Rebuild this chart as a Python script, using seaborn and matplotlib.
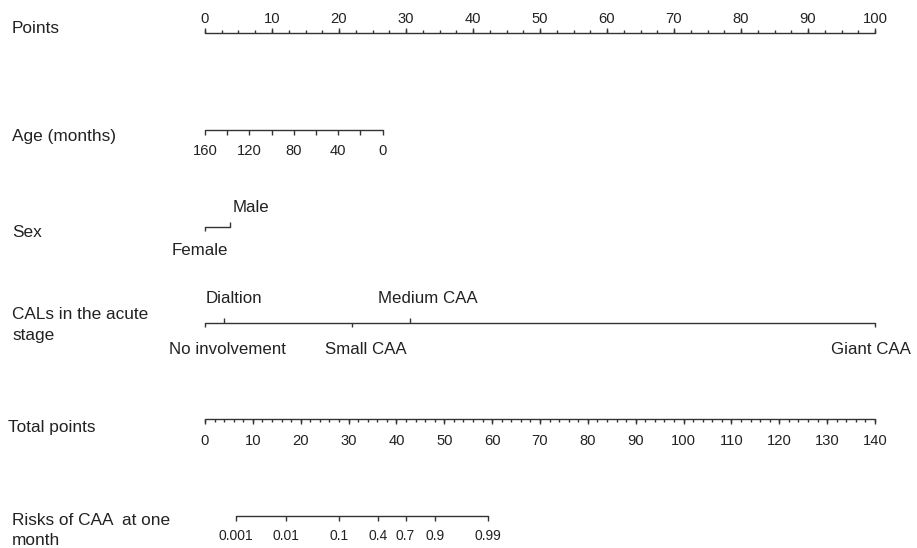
import numpy as np
import pandas as pd
import matplotlib
matplotlib.use("Agg")
import matplotlib.pyplot as plt
import seaborn as sns

# ---- nomogram values (in "points" units 0-100) ----
points_major = list(range(0, 101, 10))
points_minor = list(np.arange(0, 100.1, 2.5))

age_ticks = [160, 140, 120, 100, 80, 60, 40, 20, 0]
age_labels = [160, 120, 80, 40, 0]
age_zero_points = 26.5          # points given to age 0 months (160 months -> 0)

sex_levels = ["Female", "Male"]
sex_points = [0.0, 3.7]

cal_levels = ["No involvement", "Dialtion", "Small CAA", "Medium CAA", "Giant CAA"]
cal_points = [0.0, 2.8, 21.9, 30.6, 100.0]

total_major = list(range(0, 141, 10))
total_minor = list(range(0, 141, 2))
total_max = 140

risk_labels = ["0.001", "0.01", "0.1", "0.4", "0.7", "0.9", "0.99"]
risk_total_points = [6.4, 17.0, 28.0, 36.2, 41.9, 48.1, 59.1]

# ---- layout ----
PX = 100 / 670.0                      # points per pixel
LINE = "#333333"
TEXT = "#222222"
FONT = ["Liberation Sans", "DejaVu Sans"]

sns.set_theme(style="white")
plt.rcParams["font.family"] = FONT

fig = plt.figure(figsize=(9.17, 5.48), dpi=100)
ax = fig.add_axes([0, 0, 1, 1])
ax.set_xlim(-205 * PX, (917 - 205) * PX)
ax.set_ylim(548, 0)
ax.axis("off")

y_points, y_age, y_sex, y_cal, y_total, y_risk = 32.5, 130, 226.7, 322.7, 419.3, 516


def tot2pts(v):
    return np.asarray(v, dtype=float) * 100.0 / total_max


def age2pts(v):
    return (160 - np.asarray(v, dtype=float)) / 160.0 * age_zero_points


# axis lines drawn through seaborn
segs = pd.DataFrame({
    "x": [0, 100, age2pts(160), age2pts(0), sex_points[0], sex_points[-1],
          cal_points[0], cal_points[-1], 0, tot2pts(total_max),
          tot2pts(risk_total_points[0]), tot2pts(risk_total_points[-1])],
    "y": [y_points] * 2 + [y_age] * 2 + [y_sex] * 2 + [y_cal] * 2
         + [y_total] * 2 + [y_risk] * 2,
    "seg": np.repeat(np.arange(6), 2),
})
sns.lineplot(data=segs, x="x", y="y", units="seg", estimator=None,
             color=LINE, lw=1.0, ax=ax, legend=False)

tk = dict(color=LINE, lw=1.0)

# Points
ax.vlines(points_minor, y_points - 2.5, y_points, **tk)
ax.vlines(points_major, y_points - 5, y_points, **tk)
for v in points_major:
    ax.text(v, 22.7, str(v), ha="center", va="baseline", fontsize=10.6, color=TEXT)

# Age
ax.vlines(age2pts(age_ticks), y_age, y_age + 5, **tk)
for v in age_labels:
    ax.text(age2pts(v), 155, str(v), ha="center", va="baseline", fontsize=10.6, color=TEXT)

# Sex
sex_label_x = [-0.8, 6.9]
ax.vlines(sex_points[0], y_sex, y_sex + 4, **tk)
ax.vlines(sex_points[1], y_sex - 5, y_sex, **tk)
ax.text(sex_label_x[0], 255, sex_levels[0], ha="center", va="baseline", fontsize=12.2, color=TEXT)
ax.text(sex_label_x[1], 211.7, sex_levels[1], ha="center", va="baseline", fontsize=12.2, color=TEXT)

# CALs
cal_label_x = [3.3, 4.3, 24.0, 33.3, 99.4]
for i, (lab, p) in enumerate(zip(cal_levels, cal_points)):
    if i % 2 == 0:
        ax.vlines(p, y_cal, y_cal + 4, **tk)
        ax.text(cal_label_x[i], 354.5, lab, ha="center", va="baseline", fontsize=12.2, color=TEXT)
    else:
        ax.vlines(p, y_cal - 5, y_cal, **tk)
        ax.text(cal_label_x[i], 303.3, lab, ha="center", va="baseline", fontsize=12.2, color=TEXT)

# Total points
ax.vlines(tot2pts(total_minor), y_total, y_total + 3, **tk)
ax.vlines(tot2pts(total_major), y_total, y_total + 5, **tk)
for v in total_major:
    ax.text(tot2pts(v), 445, str(v), ha="center", va="baseline", fontsize=10.6, color=TEXT)

# Risk
ax.vlines(tot2pts(risk_total_points), y_risk, y_risk + 5, **tk)
for lab, v in zip(risk_labels, risk_total_points):
    ax.text(tot2pts(v), 540, lab, ha="center", va="baseline", fontsize=10, color=TEXT)

# row labels
lx = (12 - 205) * PX
row_labels = [
    ("Points", lx, 33),
    ("Age (months)", lx, 141.5),
    ("Sex", lx, 237.3),
    ("CALs in the acute", lx, 319.3),
    ("stage", lx, 340),
    ("Total points", (8 - 205) * PX, 431.7),
    ("Risks of CAA  at one", lx, 525),
    ("month", lx, 545),
]
for txt, x, y in row_labels:
    ax.text(x, y, txt, ha="left", va="baseline", fontsize=12.4, color=TEXT)

fig.savefig("out.png", dpi=100)
